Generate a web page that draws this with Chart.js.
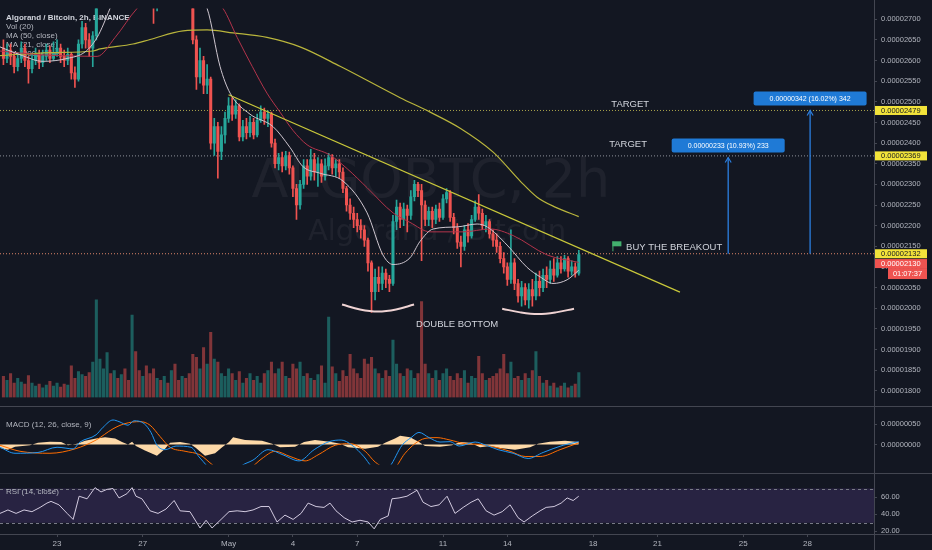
<!DOCTYPE html>
<html>
<head>
<meta charset="utf-8">
<script src="https://cdn.jsdelivr.net/npm/chart.js@4.4.1/dist/chart.umd.min.js"></script>
<style>
  html, body { margin: 0; padding: 0; background: #131722; }
  #wrap { position: relative; width: 932px; height: 550px; overflow: hidden; background: #131722; }
  .pane { position: absolute; left: 0; width: 932px; }
  .hline { position: absolute; left: 0; width: 932px; height: 1px; background: #434651; }
  .vline { position: absolute; top: 0; left: 874px; width: 1px; height: 550px; background: #434651; }
</style>
</head>
<body>
<div id="wrap">
  <div class="pane" style="top:0;height:406px"><canvas id="priceChart" width="932" height="406"></canvas></div>
  <div class="hline" style="top:406px"></div>
  <div class="pane" style="top:407px;height:66px"><canvas id="macdChart" width="932" height="66"></canvas></div>
  <div class="hline" style="top:473px"></div>
  <div class="pane" style="top:474px;height:76px"><canvas id="rsiChart" width="932" height="76"></canvas></div>
  <div class="hline" style="top:534px"></div>
  <div class="vline"></div>
</div>
<script>
// prices in satoshi (1e-8 BTC), x in day-of-period (April day, May 1 = 31)
const X_MIN = 20.34, X_MAX = 61.1;
const FIRST_CANDLE_DAY = 20.5;
const CANDLE_HOURS = 4;

const opens = [2630,2605,2625,2610,2585,2605,2630,2600,2580,2600,
 2615,2595,2610,2625,2605,2620,2630,2610,2600,2615,
 2570,2555,2640,2680,2650,2630,2660,2760,2850,2900,
 2960,2930,2980,2950,2990,2960,2920,2950,2900,2870,
 2890,2850,2800,2780,2810,2790,2820,2800,2830,2810,
 2790,2810,2780,2770,2650,2560,2600,2540,2555,2400,
 2440,2380,2420,2460,2490,2470,2490,2415,2440,2425,
 2450,2420,2455,2475,2460,2470,2400,2350,2365,2345,
 2370,2340,2290,2250,2300,2345,2320,2360,2330,2350,
 2320,2345,2365,2340,2350,2330,2290,2250,2230,2215,
 2200,2190,2165,2110,2040,2075,2060,2085,2070,2060,
 2210,2245,2215,2240,2225,2270,2300,2285,2250,2215,
 2235,2215,2240,2220,2265,2280,2220,2195,2160,2150,
 2190,2175,2215,2245,2230,2200,2210,2180,2165,2150,
 2120,2100,2070,2110,2060,2030,2050,2020,2045,2030,
 2065,2050,2080,2070,2095,2080,2110,2095,2120,2090,
 2100,2085];
const highs = [2650,2640,2640,2620,2620,2645,2640,2610,2615,2630,
 2625,2625,2640,2635,2645,2650,2640,2625,2630,2620,
 2585,2650,2695,2690,2665,2670,2790,2880,2940,3000,
 2990,3020,3000,3030,3010,2980,2970,2960,2920,2910,
 2900,2860,2820,2830,2830,2850,2840,2860,2850,2830,
 2840,2820,2800,2790,2660,2630,2610,2590,2560,2460,
 2450,2440,2475,2510,2510,2505,2495,2455,2460,2465,
 2460,2470,2490,2485,2478,2475,2410,2375,2378,2380,
 2378,2345,2300,2310,2360,2360,2385,2375,2365,2360,
 2362,2375,2372,2360,2360,2340,2295,2265,2245,2230,
 2215,2200,2170,2115,2095,2100,2100,2095,2080,2225,
 2262,2255,2255,2250,2285,2310,2305,2300,2260,2245,
 2245,2250,2255,2275,2290,2285,2230,2205,2175,2200,
 2205,2225,2260,2275,2240,2225,2215,2190,2180,2160,
 2135,2110,2190,2120,2070,2065,2060,2060,2070,2085,
 2090,2095,2100,2115,2120,2125,2125,2128,2125,2115,
 2110,2140];
const lows = [2590,2595,2590,2570,2575,2595,2585,2545,2570,2590,
 2580,2585,2600,2595,2600,2610,2595,2585,2590,2555,
 2535,2550,2630,2630,2610,2585,2650,2740,2830,2880,
 2900,2910,2920,2930,2930,2890,2890,2870,2840,2840,
 2820,2760,2690,2720,2760,2770,2770,2780,2790,2760,
 2770,2750,2740,2640,2530,2545,2520,2520,2385,2370,
 2315,2360,2400,2450,2455,2460,2405,2405,2410,2415,
 2410,2415,2450,2445,2440,2390,2340,2335,2330,2335,
 2325,2270,2215,2240,2290,2300,2310,2310,2295,2305,
 2310,2335,2325,2320,2315,2280,2235,2215,2195,2185,
 2170,2150,2090,1990,2020,2040,2045,2050,2040,2055,
 2190,2195,2200,2185,2215,2260,2270,2115,2200,2200,
 2195,2205,2210,2215,2255,2210,2180,2145,2100,2140,
 2160,2170,2210,2215,2190,2185,2170,2150,2135,2110,
 2085,2055,2060,2045,2015,2005,2008,2000,2005,2020,
 2030,2040,2050,2060,2065,2075,2085,2090,2075,2080,
 2075,2080];
const closes = [2605,2625,2610,2585,2605,2630,2600,2580,2600,2615,
 2595,2610,2625,2605,2620,2630,2610,2600,2615,2570,
 2555,2640,2680,2650,2630,2660,2760,2850,2900,2960,
 2930,2980,2950,2990,2960,2920,2950,2900,2870,2890,
 2850,2800,2780,2810,2790,2820,2800,2830,2810,2790,
 2810,2780,2770,2650,2560,2600,2540,2555,2400,2440,
 2380,2420,2460,2490,2470,2490,2415,2440,2425,2450,
 2420,2455,2475,2460,2470,2400,2350,2365,2345,2370,
 2340,2290,2250,2300,2345,2320,2360,2330,2350,2320,
 2345,2365,2340,2350,2330,2290,2250,2230,2215,2200,
 2190,2165,2110,2040,2075,2060,2085,2070,2060,2210,
 2245,2215,2240,2225,2270,2300,2285,2250,2215,2235,
 2215,2240,2220,2265,2280,2220,2195,2160,2150,2190,
 2175,2215,2245,2230,2200,2210,2180,2165,2150,2120,
 2100,2070,2110,2060,2030,2050,2020,2045,2030,2065,
 2050,2080,2070,2095,2080,2110,2095,2120,2090,2100,
 2085,2130];
const volumes = [22,18,25,15,20,16,14,23,15,12,
 14,10,13,17,12,15,11,14,13,33,
 20,27,24,22,26,37,102,40,30,47,
 25,28,20,24,30,18,86,48,28,22,
 33,25,30,20,18,22,15,28,35,18,
 22,20,25,45,42,30,52,35,68,40,
 37,25,22,30,25,18,27,15,20,25,
 18,22,15,25,28,37,25,30,37,22,
 20,35,30,37,22,25,20,18,24,33,
 15,84,32,25,17,28,22,45,30,25,
 20,40,35,42,30,25,20,28,22,60,
 35,25,22,30,28,20,25,100,35,25,
 20,28,18,25,30,22,18,25,20,28,
 15,22,20,43,25,18,20,22,25,30,
 45,25,37,20,22,18,25,20,28,48,
 22,15,18,12,15,10,12,15,10,12,
 14,26];

// moving averages: [day, price]
const ma21 = [[20.34,2633],[21.27,2614],[22.35,2598],[23.47,2605],[24.31,2621],[24.87,2656],[25.47,2726],[26.17,2818],
 [28.74,2795],[30.0,2726],[30.6,2586],[31.07,2521],[32.0,2470],[33.07,2440],[33.87,2389],[34.47,2343],[35.27,2327],
 [36.34,2308],[37.46,2231],[38.2,2129],[38.67,2106],[39.46,2122],[39.93,2162],[40.54,2192],[41.66,2197],[42.59,2204],
 [43.06,2197],[43.99,2153],[44.92,2099],[45.53,2076],[46.13,2060],[46.79,2069],[47.33,2092]];
const ma50 = [[20.34,2623],[22.21,2614],[23.14,2612],[24.87,2610],[25.71,2656],[26.73,2726],[27.8,2772],[29.67,2772],
 [30.74,2726],[31.4,2656],[32.1,2586],[32.79,2521],[33.4,2475],[34.0,2431],[34.66,2396],[35.73,2371],[36.53,2338],
 [37.46,2292],[38.67,2231],[39.46,2208],[40.4,2185],[41.94,2185],[43.2,2192],[44.27,2176],[45.86,2129],[47.33,2111]];
const ma200 = [[20.34,2612],[22.67,2619],[24.68,2623],[25.01,2628],[26.54,2640],[27.34,2651],[28.88,2672],[30.0,2674],
 [31.21,2667],[32.79,2656],[34.33,2633],[36.2,2586],[39.0,2510],[40.4,2475],[41.8,2436],[43.34,2378],[44.6,2308],
 [45.39,2269],[46.23,2245],[47.33,2222]];

// MACD (12,26,9), satoshi units
const macdLine = [[20.34,-7],[21.04,-22],[22.11,-20],[23.0,-7],[23.75,-11],[24.07,6],[24.82,24],[25.15,43],[25.61,61],
 [25.89,57],[26.31,48],[26.59,59],[27.06,52],[27.38,30],[27.66,-2],[28.04,-13],[28.55,-4],[29.25,-7],[29.62,-31],
 [30.0,-54],[30.37,-81],[31.07,-81],[31.58,-54],[32.14,-39],[32.84,-13],[33.54,-26],[34.29,-41],[34.99,-13],[35.69,7],
 [36.25,11],[36.76,-2],[37.32,-31],[37.65,-54],[38.07,-72],[38.53,-54],[39.09,-2],[39.51,17],[39.88,30],[40.35,17],
 [40.86,6],[41.33,7],[41.75,-4],[42.5,6],[43.01,-2],[43.57,-13],[44.27,-22],[44.97,-35],[45.67,-20],[46.6,-2],[47.33,7]];
const signalLine = [[20.34,-2],[21.27,-17],[22.67,-22],[23.84,-11],[24.82,11],[25.61,39],[26.17,52],[26.87,57],[27.34,48],
 [27.8,20],[28.27,-7],[28.97,-17],[29.67,-26],[30.23,-50],[30.84,-72],[32.0,-59],[32.56,-35],[33.17,-17],[33.87,-30],
 [34.57,-41],[35.17,-26],[35.97,-2],[36.67,2],[37.37,-17],[37.84,-44],[38.62,-63],[39.23,-22],[39.69,2],[40.16,15],
 [40.72,17],[41.33,11],[42.03,2],[42.73,0],[43.43,-7],[44.13,-17],[44.83,-30],[45.53,-30],[46.46,-13],[47.33,4]];
const macdHist = [[20.34,-9],[20.71,-13],[21.04,-6],[21.74,-2],[22.11,4],[22.67,7],[23.19,6],[23.51,-2],[23.93,2],
 [24.31,9],[24.82,15],[25.24,18],[25.71,15],[26.03,6],[26.31,0],[26.5,7],[26.68,-4],[27.1,-15],[27.66,-28],[28.04,-11],
 [28.27,4],[28.74,6],[29.2,2],[29.48,-9],[29.9,-28],[30.37,-22],[30.7,-7],[31.02,6],[31.21,18],[31.77,11],[32.56,9],
 [33.03,2],[33.4,-7],[34.1,-6],[34.52,6],[35.03,11],[35.73,7],[36.2,2],[36.57,-7],[37.37,-11],[37.97,-6],[38.3,4],
 [38.76,15],[39.0,22],[39.46,18],[39.88,6],[40.16,-4],[40.86,-6],[41.42,-2],[41.8,6],[42.26,4],[42.73,-7],[43.2,-4],
 [43.66,-9],[44.36,-13],[45.06,-7],[45.43,2],[45.99,7],[46.69,9],[47.33,6]];

// RSI (14)
const rsiLine = [[20.34,41],[20.71,45],[21.09,41],[21.46,45],[21.83,43],[22.21,48],[22.53,53],[22.72,55],[23.09,51],
 [23.47,41],[23.75,34],[24.03,61],[24.4,58],[24.77,71],[25.05,66],[25.33,69],[25.61,70],[25.89,59],[26.26,64],[26.5,71],
 [26.68,61],[26.96,58],[27.34,44],[27.71,41],[28.08,46],[28.46,56],[28.74,44],[29.2,43],[29.67,24],[29.95,33],[30.23,24],
 [30.65,34],[31.02,43],[31.4,44],[31.77,43],[32.14,45],[32.51,49],[32.89,49],[33.26,31],[33.63,39],[34.01,34],[34.38,41],
 [34.71,53],[35.08,49],[35.45,48],[35.73,53],[36.01,44],[36.39,36],[36.76,31],[37.13,33],[37.51,31],[37.79,23],[38.07,34],
 [38.44,38],[38.62,58],[38.95,59],[39.32,61],[39.79,68],[40.07,54],[40.44,49],[40.82,51],[41.19,61],[41.56,41],[41.94,48],
 [42.31,54],[42.64,58],[43.01,44],[43.38,39],[43.76,43],[44.13,51],[44.5,36],[44.78,31],[45.16,38],[45.53,44],[45.81,48],
 [46.18,49],[46.51,53],[46.79,59],[47.07,56],[47.33,61]];

// drawings on the price pane
const trendline = [[31.0,2517],[52.05,2039]];
const arcLeft = [[36.29,2009],[37.13,1997],[37.97,1992],[38.81,1997],[39.65,2009]];
const arcRight = [[43.76,1999],[44.6,1990],[45.43,1986],[46.27,1990],[47.11,1999]];
const levelPrices = [2479, 2369, 2132];
const targetArrows = [
  { day: 54.3, from: 2132, to: 2365, label: '0.00000233 (10.93%) 233' },
  { day: 58.12, from: 2132, to: 2479, label: '0.00000342 (16.02%) 342' }
];
const notes = [
  { text: 'TARGET', day: 49.73, price: 2493, align: 'center' },
  { text: 'TARGET', day: 49.63, price: 2396, align: 'center' },
  { text: 'BUY THE BREAKOUT', day: 49.54, price: 2148, align: 'left' },
  { text: 'DOUBLE BOTTOM', day: 41.66, price: 1962, align: 'center' }
];
const flagPoint = [48.9, 2150];
const lastPrice = 2130;
const countdown = '01:07:37';

const priceTicks = [1800,1850,1900,1950,2000,2050,2100,2150,2200,2250,2300,2350,2400,2450,2500,2550,2600,2650,2700];
const macdTicks = [0, 50];
const rsiTicks = [20, 40, 60];
const dateTickDays = [23, 27, 31, 34, 37, 41, 44, 48, 51, 55, 58];
const dateTickLabels = ['23', '27', 'May', '4', '7', '11', '14', '18', '21', '25', '28'];

const legendLines = ['Algorand / Bitcoin, 2h, BINANCE', 'Vol (20)', 'MA (50, close)', 'MA (21, close)', 'MA (200, close)'];

// styles
const FONT = '"Liberation Sans", Arial, sans-serif';
const UP = '#26a69a', DOWN = '#ef5350';
const UP_VOL = 'rgba(38,166,154,0.5)', DOWN_VOL = 'rgba(239,83,80,0.5)';
const AXIS_TEXT = '#b2b5be', LINE_GRAY = '#434651';
const ARROW_BLUE = '#2b7fe0', BOX_BLUE = '#1f7ad6';
const LEVEL_COLORS = ['#a8a24a', '#8f929b', '#dc8468'];
const AXIS_W = 58;

Chart.defaults.font.family = FONT;

const candleDays = closes.map((_, i) => FIRST_CANDLE_DAY + i * CANDLE_HOURS / 24);
const isUp = i => closes[i] >= opens[i];
const xy = pairs => pairs.map(([x, y]) => ({ x, y }));
const satFmt = v => (v / 1e8).toFixed(8);

function rightAxis(min, max, ticks, fmt) {
  return {
    position: 'right', min, max,
    afterFit(s) { s.width = AXIS_W; },
    afterBuildTicks(s) { s.ticks = ticks.map(v => ({ value: v })); },
    ticks: { color: AXIS_TEXT, font: { size: 7.5 }, padding: 4, callback: fmt },
    grid: { drawOnChartArea: false, color: LINE_GRAY, tickLength: 3 },
    border: { display: false }
  };
}

const hiddenX = { type: 'linear', min: X_MIN, max: X_MAX, display: false, offset: false, grid: { offset: false } };
const baseOpts = {
  animation: false, responsive: false, events: [],
  layout: { padding: 0 },
  plugins: { legend: { display: false }, tooltip: { enabled: false } }
};

const lineSet = (pairs, color, width, extra) => Object.assign({
  type: 'line', data: xy(pairs), borderColor: color, borderWidth: width,
  pointRadius: 0, fill: false
}, extra || {});

const pricePlugin = {
  id: 'pricePanel',
  beforeDatasetsDraw(chart) {
    const { ctx, chartArea: a } = chart;
    ctx.save();
    ctx.fillStyle = 'rgba(255,255,255,0.05)';
    ctx.textAlign = 'center';
    ctx.textBaseline = 'alphabetic';
    ctx.font = '54px "DejaVu Sans"';
    ctx.fillText('ALGOBTC, 2h', a.left + a.width * 0.493, a.top + a.height * 0.485);
    ctx.font = '29px "DejaVu Sans"';
    ctx.fillText('Algorand / Bitcoin', a.left + a.width * 0.5, a.top + a.height * 0.594);

    ctx.textAlign = 'left';
    ctx.textBaseline = 'middle';
    legendLines.forEach((t, i) => {
      ctx.font = (i === 0 ? '600 ' : '') + '8px ' + FONT;
      ctx.fillStyle = i === 0 ? '#d1d4dc' : AXIS_TEXT;
      ctx.fillText(t, a.left + 6, a.top + 9 + i * 9);
    });
    ctx.restore();
  },
  afterDatasetsDraw(chart) {
    const { ctx, scales: { x, y } } = chart;
    ctx.save();
    ctx.textBaseline = 'middle';
    ctx.font = '9.5px ' + FONT;
    ctx.fillStyle = '#d1d4dc';
    notes.forEach(n => {
      ctx.textAlign = n.align;
      ctx.fillText(n.text, x.getPixelForValue(n.day), y.getPixelForValue(n.price));
    });

    targetArrows.forEach(a => {
      const px = x.getPixelForValue(a.day), tip = y.getPixelForValue(a.to);
      ctx.strokeStyle = ARROW_BLUE;
      ctx.lineWidth = 1.2;
      ctx.beginPath();
      ctx.moveTo(px - 3, tip + 5); ctx.lineTo(px, tip); ctx.lineTo(px + 3, tip + 5);
      ctx.stroke();
      const bw = 113, bh = 14, by = tip - 5 - bh;
      ctx.fillStyle = BOX_BLUE;
      ctx.beginPath();
      ctx.roundRect(px - bw / 2, by, bw, bh, 2);
      ctx.fill();
      ctx.fillStyle = '#ffffff';
      ctx.font = '7px ' + FONT;
      ctx.textAlign = 'center';
      ctx.fillText(a.label, px, by + bh / 2 + 0.5);
    });

    const fx = x.getPixelForValue(flagPoint[0]), fy = y.getPixelForValue(flagPoint[1]);
    ctx.fillStyle = '#43b06e';
    ctx.fillRect(fx, fy - 5, 9, 5);
    ctx.fillRect(fx, fy - 5, 1, 10);
    ctx.restore();
  },
  afterDraw(chart) {
    const { ctx, scales: { y }, chartArea: a } = chart;
    ctx.save();
    ctx.font = '7.5px ' + FONT;
    ctx.textBaseline = 'middle';
    ctx.textAlign = 'left';
    const bx = a.right + 1, bw = 52, bh = 9;
    levelPrices.forEach(p => {
      const py = y.getPixelForValue(p);
      ctx.fillStyle = '#f2e33a';
      ctx.fillRect(bx, py - bh / 2, bw, bh);
      ctx.fillStyle = '#131722';
      ctx.fillText(satFmt(p), bx + 6, py + 0.5);
    });
    // last price label sits just under the 2132 label
    const ly = y.getPixelForValue(lastPrice) + bh;
    ctx.fillStyle = DOWN;
    ctx.fillRect(bx, ly - bh / 2, bw, bh);
    ctx.fillRect(bx + 13, ly + bh / 2, bw - 13, 11);
    ctx.fillStyle = '#ffffff';
    ctx.fillText(satFmt(lastPrice), bx + 6, ly + 0.5);
    ctx.textAlign = 'center';
    ctx.fillText(countdown, bx + 13 + (bw - 13) / 2, ly + bh / 2 + 5.5);
    ctx.restore();
  }
};

const levelSets = levelPrices.map((p, i) => lineSet([[X_MIN, p], [X_MAX, p]], LEVEL_COLORS[i], 1, { borderDash: [1, 2], order: 7 }));

new Chart(document.getElementById('priceChart'), {
  type: 'bar',
  data: {
    datasets: [
      ...targetArrows.map(a => lineSet([[a.day, a.from], [a.day, a.to]], ARROW_BLUE, 1.3, { order: 0 })),
      lineSet(trendline, '#c9c83a', 1.2, { order: 1 }),
      lineSet(arcLeft, '#efd3d3', 2, { order: 1, tension: 0.4 }),
      lineSet(arcRight, '#efd3d3', 2, { order: 1, tension: 0.4 }),
      lineSet(ma21, '#cfc7d0', 1, { order: 2, cubicInterpolationMode: 'monotone' }),
      lineSet(ma50, '#b3344b', 1, { order: 2, cubicInterpolationMode: 'monotone' }),
      lineSet(ma200, '#b9b53c', 1.2, { order: 2, cubicInterpolationMode: 'monotone' }),
      {
        type: 'bar', order: 3, grouped: false, barThickness: 2.4, minBarLength: 1,
        data: candleDays.map((d, i) => ({ x: d, y: [opens[i], closes[i]] })),
        backgroundColor: c => isUp(c.dataIndex) ? UP : DOWN
      },
      {
        type: 'bar', order: 4, grouped: false, barThickness: 1,
        data: candleDays.map((d, i) => ({ x: d, y: [lows[i], highs[i]] })),
        backgroundColor: c => isUp(c.dataIndex) ? UP : DOWN
      },
      ...levelSets,
      {
        type: 'bar', order: 8, grouped: false, barThickness: 2.4, yAxisID: 'vol',
        data: candleDays.map((d, i) => ({ x: d, y: volumes[i] })),
        backgroundColor: c => isUp(c.dataIndex) ? UP_VOL : DOWN_VOL
      }
    ]
  },
  options: Object.assign({}, baseOpts, {
    scales: {
      x: hiddenX,
      y: rightAxis(1783.8, 2726, priceTicks, satFmt),
      vol: { display: false, min: 0, max: 406 }
    }
  }),
  plugins: [pricePlugin]
});

const paneLabel = text => ({
  id: 'paneLabel',
  afterDatasetsDraw(chart) {
    const { ctx, chartArea: a } = chart;
    ctx.save();
    ctx.font = '8px ' + FONT;
    ctx.fillStyle = AXIS_TEXT;
    ctx.textBaseline = 'middle';
    ctx.textAlign = 'left';
    ctx.fillText(text, a.left + 6, a.top + 9);
    ctx.restore();
  }
});

new Chart(document.getElementById('macdChart'), {
  type: 'line',
  data: {
    datasets: [
      lineSet(macdLine, '#2196f3', 1, { order: 1, cubicInterpolationMode: 'monotone' }),
      lineSet(signalLine, '#ff6d00', 1, { order: 2, cubicInterpolationMode: 'monotone' }),
      lineSet(macdHist, 'rgba(0,0,0,0)', 0, { order: 3, fill: 'origin', backgroundColor: '#fdd9a8' })
    ]
  },
  options: Object.assign({}, baseOpts, {
    scales: { x: hiddenX, y: rightAxis(-50, 72.2, macdTicks, satFmt) }
  }),
  plugins: [paneLabel('MACD (12, 26, close, 9)')]
});

const rsiBand = {
  id: 'rsiBand',
  beforeDatasetsDraw(chart) {
    const { ctx, chartArea: a, scales: { y } } = chart;
    const top = y.getPixelForValue(70), bot = y.getPixelForValue(30);
    ctx.save();
    ctx.fillStyle = 'rgba(126,87,194,0.2)';
    ctx.fillRect(a.left, top, a.width, bot - top);
    ctx.strokeStyle = '#787b86';
    ctx.setLineDash([3, 3]);
    ctx.lineWidth = 1;
    [top, bot].forEach(py => {
      ctx.beginPath();
      ctx.moveTo(a.left, Math.round(py) + 0.5);
      ctx.lineTo(a.right, Math.round(py) + 0.5);
      ctx.stroke();
    });
    ctx.restore();
  }
};

new Chart(document.getElementById('rsiChart'), {
  type: 'line',
  data: { datasets: [lineSet(rsiLine, '#d3cbe0', 1, {})] },
  options: Object.assign({}, baseOpts, {
    scales: {
      x: {
        type: 'linear', min: X_MIN, max: X_MAX, position: 'bottom', offset: false,
        afterFit(s) { s.height = 16; },
        afterBuildTicks(s) { s.ticks = dateTickDays.map(v => ({ value: v })); },
        ticks: { autoSkip: false, maxRotation: 0, padding: 2, color: AXIS_TEXT, font: { size: 8 },
          callback: (v, i) => dateTickLabels[i] },
        grid: { drawOnChartArea: false, color: LINE_GRAY, tickLength: 3 },
        border: { display: false }
      },
      y: rightAxis(17, 77, rsiTicks, v => v.toFixed(2))
    }
  }),
  plugins: [rsiBand, paneLabel('RSI (14, close)')]
});
</script>
</body>
</html>
